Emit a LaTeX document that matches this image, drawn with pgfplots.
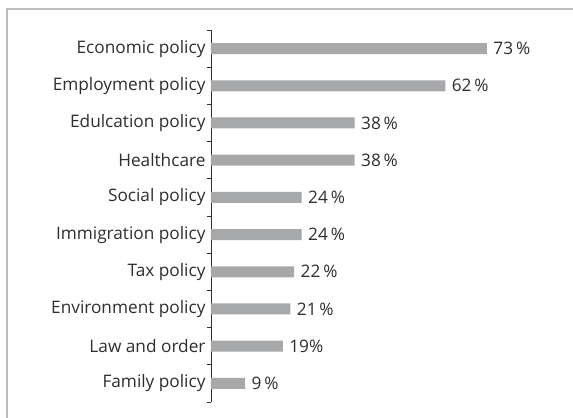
\documentclass[border=0pt]{standalone}
\usepackage{pgfplots}
\pgfplotsset{compat=1.18}
\usepackage{pgfplotstable}
\usetikzlibrary{calc}
\usepackage{fontspec}
\setmainfont{Open Sans}
\definecolor{barc}{HTML}{A7A8AA}
\definecolor{txt}{HTML}{2E2E2E}
\definecolor{frame}{HTML}{BDBDBD}
\pgfplotstableread{
val lab
9 {9\,\%}
19 {19\%}
21 {21\,\%}
22 {22\,\%}
24 {24\,\%}
24 {24\,\%}
38 {38\,\%}
38 {38\,\%}
62 {62\,\%}
73 {73\,\%}
}\datatab
\begin{document}
\begin{tikzpicture}
\begin{axis}[
  scale only axis, width=302.4bp, height=372bp,
  xmin=0, xmax=80, ymin=-0.5, ymax=9.5,
  axis x line=none, axis y line*=left,
  y axis line style={-, txt, line width=0.6bp},
  ytick={0,...,9},
  yticklabels={Family policy, Law and order, Environment policy, Tax policy, Immigration policy, Social policy, Healthcare, Edulcation policy, Employment policy, Economic policy},
  major tick length=0pt,
  minor ytick={-0.5,0.5,...,9.5},
  minor tick length=4bp,
  tick align=outside,
  tick style={txt, line width=0.6bp},
  yticklabel style={font=\fontsize{17.3}{19}\selectfont, text=txt, xshift=-2bp},
  xbar, bar width=11bp,
  point meta=explicit symbolic,
  nodes near coords,
  nodes near coords style={font=\fontsize{17.3}{19}\selectfont, text=txt, anchor=west, xshift=3bp},
  clip=false,
]
\addplot[fill=barc, draw=none] table[x=val, y expr=\coordindex, meta=lab] {\datatab};
\coordinate (ll) at (rel axis cs:0,0);
\end{axis}
\pgfresetboundingbox
\path[use as bounding box] ($(ll)+(-211bp,-16bp)$) rectangle ++(573bp,418bp);
\draw[frame, line width=1.5bp] ($(ll)+(-204bp,-16bp)$) -- ++(0,409bp) -- ++(566bp,0);
\end{tikzpicture}
\end{document}
